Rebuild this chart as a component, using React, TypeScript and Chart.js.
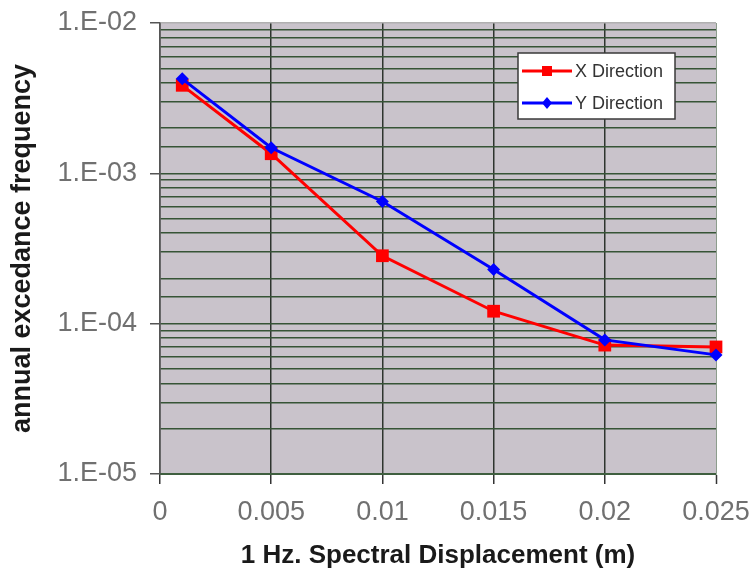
import React, { useEffect, useRef } from 'react';
import { Chart, registerables } from 'chart.js';

Chart.register(...registerables);

const xValues = [0.001, 0.005, 0.01, 0.015, 0.02, 0.025];
const xDirection = [3.85e-3, 1.35e-3, 2.83e-4, 1.21e-4, 7.2e-5, 7.0e-5];
const yDirection = [4.25e-3, 1.48e-3, 6.5e-4, 2.29e-4, 7.8e-5, 6.2e-5];
const seriesLabels = ['X Direction', 'Y Direction'];
const xTickLabels = ['0', '0.005', '0.01', '0.015', '0.02', '0.025'];
const yDecades = [1e-5, 1e-4, 1e-3, 1e-2];
const yTickLabels = ['1.E-05', '1.E-04', '1.E-03', '1.E-02'];

const FONT = '"Liberation Sans", Arial, sans-serif';

const decadeIndex = (v: number) =>
  yDecades.findIndex((d) => Math.abs(v / d - 1) < 1e-6);

const plotBackground = {
  id: 'plotBackground',
  beforeDraw(chart: any) {
    const { ctx, chartArea } = chart;
    ctx.save();
    ctx.fillStyle = '#c9c3cb';
    ctx.fillRect(chartArea.left, chartArea.top, chartArea.right - chartArea.left, chartArea.bottom - chartArea.top);
    ctx.restore();
  },
};

const boxLegend = {
  id: 'boxLegend',
  afterDraw(chart: any) {
    const { ctx, chartArea } = chart;
    const x = chartArea.right - 198;
    const y = chartArea.top + 30;
    const w = 157;
    const h = 66;
    ctx.save();
    ctx.fillStyle = '#ffffff';
    ctx.fillRect(x, y, w, h);
    ctx.strokeStyle = '#3a3a3a';
    ctx.lineWidth = 1.5;
    ctx.strokeRect(x, y, w, h);
    chart.data.datasets.forEach((ds: any, i: number) => {
      const cy = y + 18 + i * 32;
      ctx.strokeStyle = ds.borderColor;
      ctx.lineWidth = 3;
      ctx.beginPath();
      ctx.moveTo(x + 4, cy);
      ctx.lineTo(x + 54, cy);
      ctx.stroke();
      ctx.fillStyle = ds.borderColor;
      const mx = x + 29;
      if (ds.pointStyle === 'rect') {
        ctx.fillRect(mx - 5, cy - 5, 10, 10);
      } else {
        ctx.beginPath();
        ctx.moveTo(mx, cy - 6);
        ctx.lineTo(mx + 5, cy);
        ctx.lineTo(mx, cy + 6);
        ctx.lineTo(mx - 5, cy);
        ctx.closePath();
        ctx.fill();
      }
      ctx.fillStyle = '#333333';
      ctx.font = `18px ${FONT}`;
      ctx.textBaseline = 'middle';
      ctx.textAlign = 'left';
      ctx.fillText(ds.label, x + 57, cy + 1);
    });
    ctx.restore();
  },
};

export default function App() {
  const canvasRef = useRef<HTMLCanvasElement | null>(null);

  useEffect(() => {
    document.body.style.margin = '0';
    const canvas = canvasRef.current;
    if (!canvas) return;
    const chart = new Chart(canvas, {
      type: 'line',
      data: {
        datasets: [
          {
            label: seriesLabels[0],
            data: xValues.map((x, i) => ({ x, y: xDirection[i] })),
            borderColor: '#ff0000',
            backgroundColor: '#ff0000',
            borderWidth: 3,
            pointStyle: 'rect',
            pointRadius: 9,
            pointBorderWidth: 0,
            order: 1,
            clip: false,
          },
          {
            label: seriesLabels[1],
            data: xValues.map((x, i) => ({ x, y: yDirection[i] })),
            borderColor: '#0000ff',
            backgroundColor: '#0000ff',
            borderWidth: 3,
            pointStyle: 'rectRot',
            pointRadius: 6.5,
            pointBorderWidth: 0,
            order: 0,
            clip: false,
          },
        ],
      },
      options: {
        animation: false,
        responsive: true,
        maintainAspectRatio: false,
        layout: { padding: { left: 0, top: 23, right: 38, bottom: 0 } },
        plugins: {
          legend: { display: false },
          tooltip: { enabled: false },
        },
        scales: {
          x: {
            type: 'linear',
            min: 0,
            max: 0.025,
            ticks: {
              stepSize: 0.005,
              autoSkip: false,
              maxRotation: 0,
              padding: 12,
              color: '#707070',
              font: { family: FONT, size: 27 },
              callback: (value: any) => {
                const i = Math.round(Number(value) / 0.005);
                return xTickLabels[i] ?? '';
              },
            },
            grid: {
              color: (ctx: any) => (ctx.tick && Math.abs(ctx.tick.value - 0.025) < 1e-9 ? '#8d9d8d' : '#2e352e'),
              lineWidth: (ctx: any) => (ctx.tick && Math.abs(ctx.tick.value - 0.025) < 1e-9 ? 1 : 1.5),
              tickColor: '#333333',
              tickLength: 10,
              tickWidth: 1.5,
            },
            border: { color: '#3f5f3f', width: 2 },
            title: {
              display: true,
              text: '1 Hz. Spectral Displacement (m)',
              color: '#1a1a1a',
              font: { family: FONT, size: 26, weight: 'bold' },
              padding: { top: 0, bottom: 3 },
            },
            afterFit: (scale: any) => {
              scale.height = 100;
              scale.paddingLeft = 0;
              scale.paddingRight = 0;
            },
          },
          y: {
            type: 'logarithmic',
            min: 1e-5,
            max: 1e-2,
            ticks: {
              autoSkip: false,
              padding: 13,
              color: '#707070',
              font: { family: FONT, size: 27 },
              callback: (value: any) => {
                const i = decadeIndex(Number(value));
                return i >= 0 ? yTickLabels[i] : '';
              },
            },
            grid: {
              color: (ctx: any) => (ctx.tick && Math.abs(ctx.tick.value / 1e-2 - 1) < 1e-6 ? '#b0b0b0' : '#365436'),
              lineWidth: 1.5,
              tickColor: (ctx: any) => (ctx.tick && decadeIndex(ctx.tick.value) >= 0 ? '#555555' : 'rgba(0,0,0,0)'),
              tickLength: 10,
              tickWidth: 1.5,
            },
            border: { color: '#555555', width: 1.5 },
            title: {
              display: true,
              text: 'annual excedance frequency',
              color: '#1a1a1a',
              font: { family: FONT, size: 27, weight: 'bold' },
              padding: { top: 6, bottom: 0 },
            },
            afterFit: (scale: any) => {
              scale.width = 160;
              scale.paddingTop = 0;
              scale.paddingBottom = 0;
            },
          },
        },
      },
      plugins: [plotBackground, boxLegend],
    } as any);
    return () => chart.destroy();
  }, []);

  return (
    <div style={{ position: 'relative', width: 754, height: 574 }}>
      <canvas ref={canvasRef} />
    </div>
  );
}
